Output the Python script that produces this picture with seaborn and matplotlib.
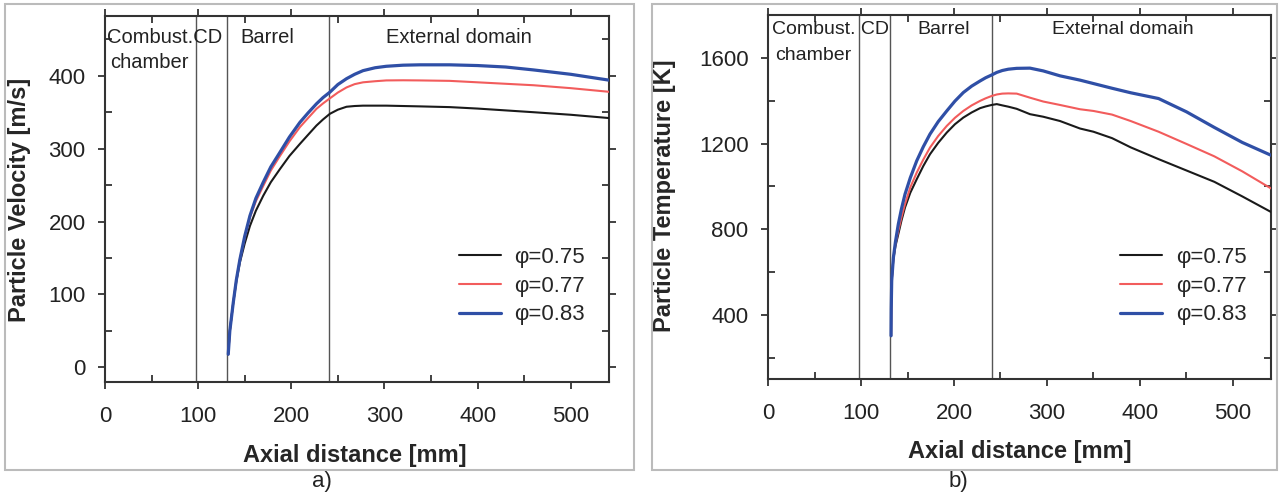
import pandas as pd
import seaborn as sns
import matplotlib.pyplot as plt
from matplotlib.lines import Line2D
from matplotlib.patches import Rectangle
from matplotlib.ticker import MultipleLocator
import matplotlib.transforms as mtransforms

# ---- data ----
labels = ["φ=0.75", "φ=0.77", "φ=0.83"]

x_vel = [132.3, 134, 137.7, 141, 144.8, 150, 155.6, 162, 169.9, 178, 187.8,
         198, 209.2, 218, 227, 234, 241.4, 250, 259.3, 268, 277, 290, 302,
         320, 338, 370, 400, 430, 460, 500, 541]
vel_075 = [18, 50, 89, 118, 144, 170, 194, 215, 235.5, 254, 272, 290, 306.5,
           319, 331.7, 340, 347.8, 353.5, 357.5, 358.5, 359, 359, 359, 358.5,
           358, 357, 355, 352.5, 350, 346.5, 342]
vel_077 = [18, 50, 89, 120, 148, 178, 206, 228, 249, 270, 290, 310, 329.5,
           342, 354.6, 362, 369, 377, 384, 388.5, 391, 392.5, 393.6, 393.8,
           393.6, 393, 391, 389, 387, 383, 378]
vel_083 = [18, 50, 89, 120, 148, 180, 208, 232, 254, 275, 295, 316, 336,
           349, 361.5, 370, 377.5, 388, 396, 402, 407, 411, 413, 414.5, 415,
           415, 414, 412, 408, 402, 394]

x_temp = [132.3, 132.5, 133, 134.8, 137, 140.1, 143.5, 147.3, 153, 159.9,
          167, 174.2, 183, 192.2, 201, 210, 219, 228, 234, 240.5, 246, 252,
          258.4, 267.4, 281.7, 296, 314, 335.5, 350, 370, 390, 420, 450, 480,
          510, 541]
temp_075 = [302, 430, 559, 660, 720, 777, 840, 901, 970, 1033, 1095, 1150,
            1203, 1251, 1290, 1321, 1345, 1365, 1373, 1380, 1384, 1378, 1372,
            1362, 1337, 1325, 1305, 1270, 1255, 1225, 1182, 1127, 1074, 1021,
            953, 880]
temp_077 = [302, 430, 559, 665, 730, 792, 855, 917, 995, 1064, 1125, 1181,
            1235, 1282, 1320, 1352, 1378, 1399, 1411, 1422, 1429, 1433, 1434,
            1433, 1414, 1396, 1380, 1360, 1352, 1335, 1305, 1255, 1198, 1140,
            1070, 990]
temp_083 = [302, 430, 559, 667, 740, 823, 895, 963, 1040, 1119, 1185, 1244,
            1302, 1352, 1398, 1438, 1468, 1492, 1507, 1520, 1532, 1541, 1547,
            1551, 1552, 1539, 1516, 1496, 1480, 1458, 1437, 1410, 1348, 1275,
            1205, 1145]

region_lines = [98, 131, 241]

colors = {"φ=0.75": "#1a1a1a", "φ=0.77": "#f25c5c", "φ=0.83": "#2f4fa6"}
widths = {"φ=0.75": 1.5, "φ=0.77": 1.5, "φ=0.83": 2.3}


def long_df(x, series):
    frames = [pd.DataFrame({"x": x, "y": s, "case": lab})
              for lab, s in zip(labels, series)]
    return pd.concat(frames, ignore_index=True)


def style_axes(ax, ylim, ymajor, yminor):
    ax.set_xlim(0, 541)
    ax.set_ylim(*ylim)
    ax.xaxis.set_major_locator(MultipleLocator(100))
    ax.xaxis.set_minor_locator(MultipleLocator(50))
    ax.yaxis.set_major_locator(MultipleLocator(ymajor))
    ax.yaxis.set_minor_locator(MultipleLocator(yminor))
    ax.tick_params(which="major", direction="out", length=5, width=1.3,
                   bottom=True, left=True, top=True, right=True,
                   labelsize=16, labelcolor="#222222", color="#333333")
    ax.tick_params(which="minor", direction="in", length=5, width=1.3,
                   bottom=True, left=True, top=True, right=True,
                   color="#333333")
    ax.tick_params(axis="x", which="major", pad=12)
    ax.tick_params(axis="y", which="major", pad=9)
    for sp in ax.spines.values():
        sp.set_color("#333333")
        sp.set_linewidth(1.5)
    for xv in region_lines:
        ax.axvline(xv, color="#555555", lw=1.0, zorder=1)


def draw_panel(ax, df):
    for lab in labels:
        sub = df[df["case"] == lab]
        sns.lineplot(data=sub, x="x", y="y", color=colors[lab],
                     linewidth=widths[lab], estimator=None, sort=False,
                     ax=ax, legend=False, zorder=3)


def add_legend(ax, x0, y0):
    handles = [Line2D([], [], color=colors[l], lw=widths[l]) for l in labels]
    ax.legend(handles, labels, loc="upper left", bbox_to_anchor=(x0, y0),
              frameon=False, fontsize=16, handlelength=1.9,
              handletextpad=0.6, labelspacing=0.35, borderpad=0,
              borderaxespad=0)


sns.set_theme(style="white")
plt.rcParams["font.family"] = ["Liberation Sans", "DejaVu Sans"]

fig = plt.figure(figsize=(12.79, 4.93), dpi=100)
ax1 = fig.add_axes([0.0821, 0.2252, 0.394, 0.7424])
ax2 = fig.add_axes([0.6005, 0.2312, 0.3933, 0.7383])

# panel a) velocity
draw_panel(ax1, long_df(x_vel, [vel_075, vel_077, vel_083]))
style_axes(ax1, (-20, 482), 100, 50)
ax1.set_xlabel("Axial distance [mm]", fontsize=17, fontweight="bold")
ax1.set_ylabel("Particle Velocity [m/s]", fontsize=17, fontweight="bold")
ax1.xaxis.set_label_coords(0.496, -0.20)
ax1.xaxis.label.set_va("center")
ax1.yaxis.set_label_coords(-0.169, 0.497)
ax1.yaxis.label.set_va("center")
tr1 = mtransforms.blended_transform_factory(ax1.transData, ax1.transAxes)
ax1.text(2, 0.94, "Combust.CD", transform=tr1, fontsize=14.5,
         va="center", ha="left", color="#222222")
ax1.text(5, 0.872, "chamber", transform=tr1, fontsize=14.5,
         va="center", ha="left", color="#222222")
ax1.text(174, 0.94, "Barrel", transform=tr1, fontsize=14.5,
         va="center", ha="center", color="#222222")
ax1.text(380, 0.94, "External domain", transform=tr1, fontsize=14.5,
         va="center", ha="center", color="#222222")
add_legend(ax1, 0.702, 0.369)

# panel b) temperature
draw_panel(ax2, long_df(x_temp, [temp_075, temp_077, temp_083]))
style_axes(ax2, (100, 1800), 400, 200)
ax2.set_xlabel("Axial distance [mm]", fontsize=17, fontweight="bold")
ax2.set_ylabel("Particle Temperature [K]", fontsize=17, fontweight="bold")
ax2.xaxis.set_label_coords(0.5, -0.20)
ax2.xaxis.label.set_va("center")
ax2.yaxis.set_label_coords(-0.206, 0.503)
ax2.yaxis.label.set_va("center")
tr2 = mtransforms.blended_transform_factory(ax2.transData, ax2.transAxes)
ax2.text(4, 0.959, "Combust. CD", transform=tr2, fontsize=14,
         va="center", ha="left", color="#222222")
ax2.text(7.5, 0.89, "chamber", transform=tr2, fontsize=14,
         va="center", ha="left", color="#222222")
ax2.text(189, 0.959, "Barrel", transform=tr2, fontsize=14,
         va="center", ha="center", color="#222222")
ax2.text(382, 0.959, "External domain", transform=tr2, fontsize=14,
         va="center", ha="center", color="#222222")
add_legend(ax2, 0.700, 0.363)

# outer frames and panel tags
W, H = 1279, 493
fig.patches.append(Rectangle((5 / W, 1 - 470 / H), 629 / W, 466 / H,
                             transform=fig.transFigure, fill=False,
                             edgecolor="#bbbbbb", lw=1.5))
fig.patches.append(Rectangle((652 / W, 1 - 470 / H), 625 / W, 466 / H,
                             transform=fig.transFigure, fill=False,
                             edgecolor="#bbbbbb", lw=1.5))
fig.text(322 / W, 1 - 481 / H, "a)", fontsize=16, ha="center", va="center",
         color="#222222")
fig.text(958 / W, 1 - 481 / H, "b)", fontsize=16, ha="center", va="center",
         color="#222222")

fig.savefig("out.png", dpi=100)
